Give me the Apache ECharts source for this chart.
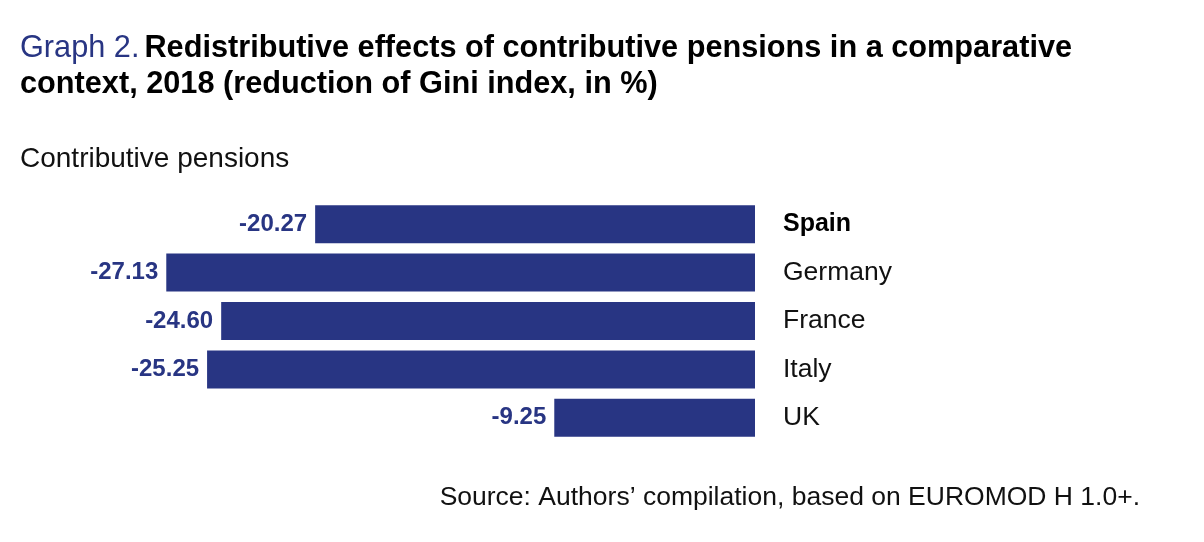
<!DOCTYPE html>
<html>
<head>
<meta charset="utf-8">
<script src="https://cdn.jsdelivr.net/npm/echarts@6/dist/echarts.min.js"></script>
<style>
html, body { margin: 0; padding: 0; background: #fff; }
#main { width: 1204px; height: 542px; }
</style>
</head>
<body>
<div id="main"></div>
<script>
var countries = ['Spain', 'Germany', 'France', 'Italy', 'UK'];
var giniReduction = [-20.27, -27.13, -24.60, -25.25, -9.25];

var navy = '#283583';
var font = 'Liberation Sans';
var myChart = echarts.init(document.getElementById('main'));

var option = {
    backgroundColor: '#fff',
    animation: false,
    title: [
        {
            left: 20,
            top: 31,
            padding: 0,
            text: '{g|Graph 2.} {t|Redistributive effects of contributive pensions in a comparative}\n{t|context, 2018 (reduction of Gini index, in %)}',
            textStyle: {
                rich: {
                    g: { fontFamily: font, fontSize: 30.7, fontWeight: 'normal', color: navy, lineHeight: 36 },
                    t: { fontFamily: font, fontSize: 30.7, fontWeight: 'bold', color: '#000', lineHeight: 36 }
                }
            }
        },
        {
            left: 20,
            top: 145,
            padding: 0,
            text: 'Contributive pensions',
            textStyle: { fontFamily: font, fontSize: 28, fontWeight: 'normal', color: '#111' }
        },
        {
            right: 64,
            top: 484,
            padding: 0,
            text: 'Source: Authors\u2019 compilation, based on EUROMOD H 1.0+.',
            textStyle: { fontFamily: font, fontSize: 26.5, fontWeight: 'normal', color: '#111' }
        }
    ],
    grid: {
        left: 104,
        right: 449,
        top: 200,
        height: 242
    },
    xAxis: {
        type: 'value',
        min: -30,
        max: 0,
        show: false
    },
    yAxis: {
        type: 'category',
        inverse: true,
        position: 'right',
        data: countries,
        axisLine: { show: false },
        axisTick: { show: false },
        splitLine: { show: false },
        axisLabel: {
            margin: 28,
            align: 'left',
            fontFamily: font,
            fontSize: 26.5,
            color: '#111',
            formatter: function (v) {
                return v === 'Spain' ? '{b|' + v + '}' : v;
            },
            rich: {
                b: { fontFamily: font, fontSize: 25, fontWeight: 'bold', color: '#000' }
            }
        }
    },
    series: [{
        type: 'bar',
        data: giniReduction,
        barWidth: 38,
        itemStyle: { color: navy },
        label: {
            show: true,
            position: 'left',
            distance: 8,
            fontFamily: font,
            fontSize: 24,
            fontWeight: 'bold',
            color: navy,
            formatter: function (p) { return p.value.toFixed(2); }
        }
    }]
};

myChart.setOption(option);
</script>
</body>
</html>
